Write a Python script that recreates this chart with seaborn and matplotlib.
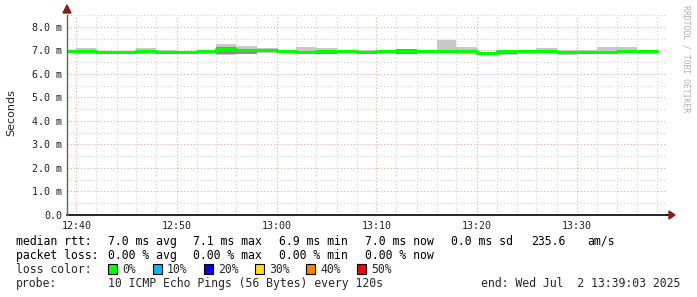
import matplotlib
matplotlib.use("Agg")
import matplotlib.pyplot as plt
import matplotlib.dates as mdates
from matplotlib.patches import Rectangle, Polygon
import seaborn as sns
import pandas as pd
import numpy as np
from datetime import datetime

# ---------------- data (ms) ----------------
step_start = ["12:38", "12:40", "12:42", "12:44", "12:46", "12:48", "12:50", "12:52",
              "12:54", "12:56", "12:58", "13:00", "13:02", "13:04", "13:06", "13:08",
              "13:10", "13:12", "13:14", "13:16", "13:18", "13:20", "13:22", "13:24",
              "13:26", "13:28", "13:30", "13:32", "13:34", "13:36"]
step_end = "13:38"
median_ms = [6.95, 6.95, 6.94, 6.94, 6.96, 6.93, 6.94, 6.95, 7.05, 7.02, 7.01, 6.96,
             6.94, 6.95, 6.96, 6.94, 6.95, 6.95, 6.95, 6.95, 6.95, 6.88, 6.95, 6.95,
             6.96, 6.94, 6.94, 6.94, 6.96, 6.96]
smoke_lo = [6.93, 6.84, 6.89, 6.90, 6.84, 6.84, 6.90, 6.84, 6.78, 6.84, 6.88, 6.89,
            6.85, 6.85, 6.89, 6.89, 6.92, 6.84, 6.89, 6.89, 6.84, 6.85, 6.78, 6.84,
            6.89, 6.78, 6.86, 6.89, 6.89, 6.86]
smoke_hi = [6.98, 7.09, 6.98, 6.98, 7.09, 7.03, 6.98, 7.03, 7.25, 7.20, 7.09, 7.03,
            7.12, 7.09, 7.03, 7.01, 6.98, 7.06, 7.03, 7.43, 7.12, 6.94, 7.03, 7.03,
            7.09, 7.03, 7.03, 7.12, 7.12, 7.01]
inner_lo = [6.94, 6.92, 6.92, 6.92, 6.92, 6.90, 6.92, 6.88, 6.86, 6.85, 6.95, 6.93,
            6.89, 6.85, 6.93, 6.92, 6.93, 6.86, 6.90, 6.92, 6.92, 6.86, 6.86, 6.90,
            6.92, 6.88, 6.90, 6.92, 6.92, 6.88]
inner_hi = [6.96, 6.99, 6.96, 6.96, 7.00, 6.97, 6.96, 7.03, 7.16, 6.92, 7.05, 6.99,
            6.99, 6.92, 6.99, 6.97, 6.97, 7.05, 7.02, 7.00, 6.99, 6.92, 6.99, 6.99,
            7.00, 6.98, 6.98, 6.98, 7.00, 6.98]

y_ticks = [0, 1, 2, 3, 4, 5, 6, 7, 8]
y_tick_labels = ["0.0", "1.0 m", "2.0 m", "3.0 m", "4.0 m", "5.0 m", "6.0 m", "7.0 m", "8.0 m"]
x_ticks = ["12:40", "12:50", "13:00", "13:10", "13:20", "13:30"]
x_tick_labels = ["12:40", "12:50", "13:00", "13:10", "13:20", "13:30"]

loss_labels = ["0%", "10%", "20%", "30%", "40%", "50%"]
loss_colors = ["#00ff00", "#00b8ff", "#0000ff", "#ffe000", "#ff8000", "#ff0000"]

legend_line1 = [("median rtt:", 16), ("7.0 ms avg", 108), ("7.1 ms max", 193),
                ("6.9 ms min", 279), ("7.0 ms now", 365), ("0.0 ms sd", 451),
                ("235.6", 531), ("am/s", 587)]
legend_line2 = [("packet loss:", 16), ("0.00 % avg", 108), ("0.00 % max", 193),
                ("0.00 % min", 279), ("0.00 % now", 365)]
probe_text = "10 ICMP Echo Pings (56 Bytes) every 120s"
end_text = "end: Wed Jul  2 13:39:03 2025"

# ---------------- setup ----------------
sns.set_theme(style="white")
plt.rcParams["font.family"] = ["DejaVu Sans Mono", "DejaVu Sans"]

day = "2025-07-02 "
def t(s):
    return pd.Timestamp(day + s).to_pydatetime()

times = [t(s) for s in step_start] + [t(step_end)]
def ext(a):
    return list(a) + [a[-1]]

df = pd.DataFrame({"time": times, "median": ext(median_ms)})

W, H = 697, 297
fig = plt.figure(figsize=(W / 100, H / 100), dpi=100)
fig.patch.set_facecolor("white")
L, R, B, T = 67, 667, 215, 15
ax = fig.add_axes([L / W, 1 - B / H, (R - L) / W, (B - T) / H])
ax.set_facecolor("white")

ax.set_xlim(t("12:39:03"), t("13:39:03"))
ax.set_ylim(0, 8.5)

# grid
ax.set_xticks([t(s) for s in x_ticks])
ax.set_xticklabels(x_tick_labels)
ax.xaxis.set_minor_locator(mdates.MinuteLocator(byminute=range(0, 60, 2)))
ax.set_yticks(y_ticks)
ax.set_yticklabels(y_tick_labels)
ax.yaxis.set_minor_locator(matplotlib.ticker.MultipleLocator(0.5))
ax.grid(True, which="minor", color="#cfcfcf", linestyle=(0, (1, 2)), linewidth=0.8)
ax.grid(True, which="major", color="#eaa6a6", linestyle=(0, (1, 2)), linewidth=0.8)
ax.set_axisbelow(True)

# smoke
ax.fill_between(times, ext(smoke_lo), ext(smoke_hi), step="post", color="#c8c8c8",
                linewidth=0, zorder=2)
ax.fill_between(times, ext(inner_lo), ext(inner_hi), step="post", color="#8c8c8c",
                linewidth=0, zorder=3)

# median
sns.lineplot(data=df, x="time", y="median", drawstyle="steps-post", color="#00ff00",
             linewidth=2.2, ax=ax, zorder=4, legend=False)
ax.set_xlabel("")
ax.set_ylabel("")

# spines
for s in ["top", "right"]:
    ax.spines[s].set_visible(False)
ax.spines["left"].set_color("#606060")
ax.spines["bottom"].set_color("black")
ax.spines["left"].set_linewidth(1.0)
ax.spines["bottom"].set_linewidth(1.2)
ax.spines["left"].set_zorder(5)

ax.tick_params(axis="both", which="major", labelsize=7.2, colors="#202020",
               length=3, width=0.8, direction="inout", pad=2)
ax.tick_params(axis="both", which="minor", length=2, width=0.6, direction="in",
               colors="#606060")
ax.tick_params(axis="x", which="major", pad=3)

# arrows
ax.add_patch(Polygon([[0, 1.0 + 2 / 200], [-4 / 600, 1.0 + 2 / 200],
                      [0, 1.0 + 10 / 200], [4 / 600, 1.0 + 2 / 200]],
                     closed=True, transform=ax.transAxes, clip_on=False,
                     color="#8b1a1a", zorder=6))
ax.add_patch(Polygon([[1.0 + 2 / 600, 4 / 200], [1.0 + 8 / 600, 0],
                      [1.0 + 2 / 600, -4 / 200]],
                     closed=True, transform=ax.transAxes, clip_on=False,
                     color="#8b1a1a", zorder=6))
ax.plot([1.0, 1.0 + 4 / 600], [0, 0], transform=ax.transAxes, color="black",
        lw=1.2, clip_on=False)

# labels
def fx(x):
    return x / W
def fy(y):
    return 1 - y / H

fig.text(fx(11), fy(113), "Seconds", rotation=90, ha="center", va="center",
         fontsize=8, family="DejaVu Sans", color="#202020")
fig.text(fx(686), fy(5), "RRDTOOL / TOBI OETIKER", rotation=-90, ha="center",
         va="top", fontsize=5.9, color="#b0b0b0")

fs = 8.3
base = [245, 259, 273, 287]
for txt, x in legend_line1:
    fig.text(fx(x), fy(base[0]), txt, ha="left", va="baseline", fontsize=fs, color="black")
for txt, x in legend_line2:
    fig.text(fx(x), fy(base[1]), txt, ha="left", va="baseline", fontsize=fs, color="black")
fig.text(fx(16), fy(base[2]), "loss color:", ha="left", va="baseline", fontsize=fs)
sq_x = [108, 153, 204, 255, 306, 357]
for lbl, col, x in zip(loss_labels, loss_colors, sq_x):
    fig.add_artist(Rectangle((fx(x), fy(274)), 9 / W, 10 / H, transform=fig.transFigure,
                             facecolor=col, edgecolor="black", linewidth=0.8))
    fig.text(fx(x + 14), fy(base[2]), lbl, ha="left", va="baseline", fontsize=fs)
fig.text(fx(16), fy(base[3]), "probe:", ha="left", va="baseline", fontsize=fs)
fig.text(fx(108), fy(base[3]), probe_text, ha="left", va="baseline", fontsize=fs)
fig.text(fx(680), fy(base[3]), end_text, ha="right", va="baseline", fontsize=fs)

fig.savefig("out.png", dpi=100, facecolor="white")
